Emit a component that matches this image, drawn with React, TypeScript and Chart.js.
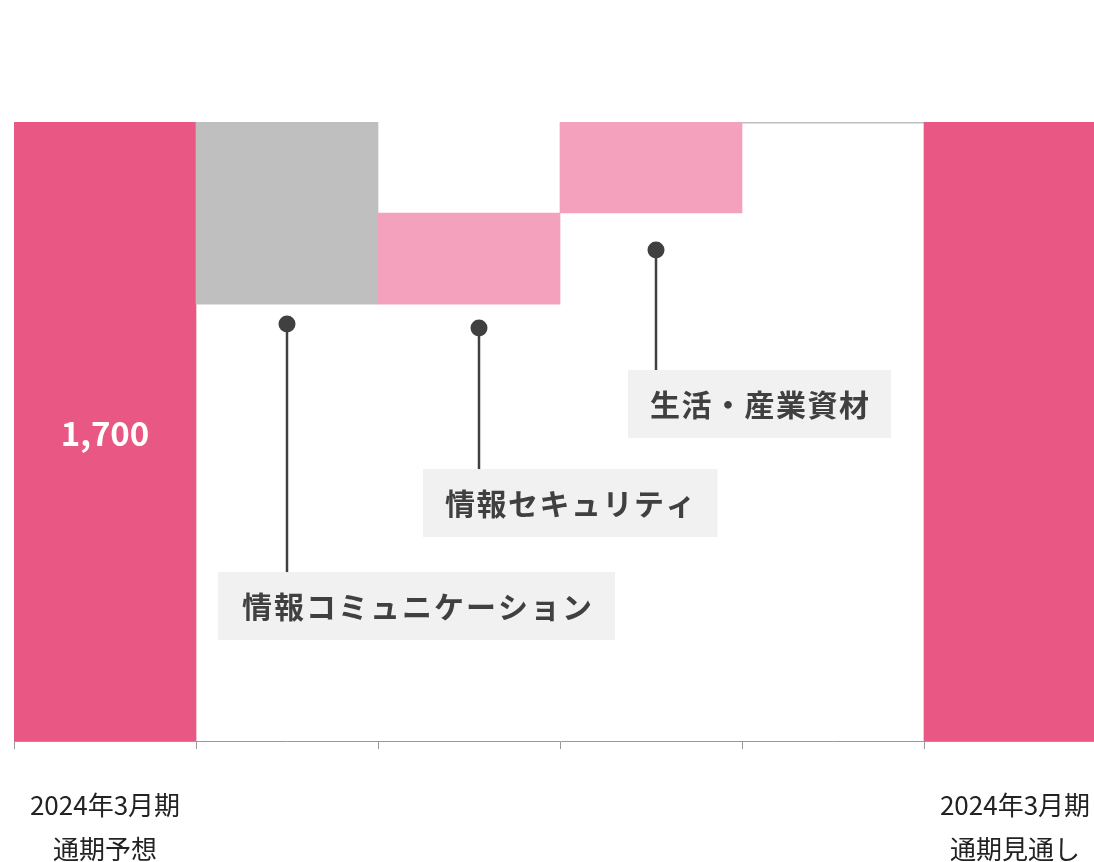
import React, { useEffect, useRef } from 'react';
import { Chart, registerables } from 'chart.js';

Chart.register(...registerables);

const categories = ['2024年3月期 通期予想', '情報コミュニケーション', '情報セキュリティ', '生活・産業資材', 'その他', '2024年3月期 通期見通し'];
const tickLabels: (string | string[])[] = [['2024年3月期', '通期予想'], '', '', '', '', ['2024年3月期', '通期見通し']];
const barStart = [0, 1200, 1200, 1450, 1697, 0];
const barEnd = [1700, 1700, 1450, 1700, 1700, 1700];
const barColors = ['#E95784', '#BFBFBF', '#F3A1BC', '#F3A1BC', '#BFBFBF', '#E95784'];
const valueLabels = ['1,700', '', '', '', '', ''];
const calloutIndex = [1, 2, 3];
const calloutText = ['情報コミュニケーション', '情報セキュリティ', '生活・産業資材'];

const FONT = "'Noto Sans CJK JP', 'Noto Sans', sans-serif";

// layout of callouts (offsets only)
const calloutLayout = [
  { dx: 0, dy: 20, boxDy: 248, boxDx: -69, padL: 24, padR: 23, ls: 2 },
  { dx: 10, dy: 24, boxDy: 141, boxDx: -56, padL: 22, padR: 22, ls: 1.5 },
  { dx: 5, dy: 37, boxDy: 120, boxDx: -28, padL: 22, padR: 22, ls: 1.5 },
];

const overlayPlugin = {
  id: 'overlay',
  afterDatasetsDraw(chart: any) {
    const ctx = chart.ctx as CanvasRenderingContext2D;
    const xs = chart.scales.x;
    const ys = chart.scales.y;
    // value labels
    ctx.save();
    ctx.fillStyle = '#FFFFFF';
    ctx.font = `bold 33px ${FONT}`;
    ctx.textAlign = 'center';
    ctx.textBaseline = 'middle';
    valueLabels.forEach((t, i) => {
      if (!t) return;
      const x = xs.getPixelForValue(i);
      const y = (ys.getPixelForValue(barStart[i]) + ys.getPixelForValue(barEnd[i])) / 2 + 2;
      ctx.fillText(t, x, y);
    });
    ctx.restore();

    // callouts
    calloutIndex.forEach((idx, k) => {
      const L = calloutLayout[k];
      const dotX = xs.getPixelForValue(idx) + L.dx;
      const dotY = ys.getPixelForValue(Math.min(barStart[idx], barEnd[idx])) + L.dy;
      const boxTop = dotY + L.boxDy;
      const boxLeft = dotX + L.boxDx;
      ctx.save();
      ctx.font = `bold 30px ${FONT}`;
      (ctx as any).letterSpacing = `${L.ls}px`;
      const tw = ctx.measureText(calloutText[k]).width - L.ls;
      const boxH = 68;
      const boxW = tw + L.padL + L.padR;
      ctx.fillStyle = '#F1F1F1';
      ctx.fillRect(boxLeft, boxTop, boxW, boxH);
      ctx.fillStyle = '#404040';
      ctx.textAlign = 'left';
      ctx.textBaseline = 'middle';
      ctx.fillText(calloutText[k], boxLeft + L.padL, boxTop + boxH / 2 + 1);
      ctx.restore();

      ctx.save();
      ctx.strokeStyle = '#404040';
      ctx.lineWidth = 2.5;
      ctx.beginPath();
      ctx.moveTo(dotX, dotY);
      ctx.lineTo(dotX, boxTop);
      ctx.stroke();
      ctx.fillStyle = '#404040';
      ctx.beginPath();
      ctx.arc(dotX, dotY, 8.5, 0, Math.PI * 2);
      ctx.fill();
      ctx.restore();
    });
  },
};

export default function App() {
  const ref = useRef<HTMLCanvasElement | null>(null);
  useEffect(() => {
    if (!ref.current) return;
    const chart = new Chart(ref.current, {
      type: 'bar',
      data: {
        labels: tickLabels as any,
        datasets: [
          {
            label: '売上',
            data: barStart.map((s, i) => [s, barEnd[i]]) as any,
            backgroundColor: barColors,
            borderWidth: 0,
            barPercentage: 1,
            categoryPercentage: 1,
          },
        ],
      },
      options: {
        responsive: false,
        animation: false,
        devicePixelRatio: 1,
        layout: { padding: { top: 122, left: 14, right: 0, bottom: 0 } },
        plugins: { legend: { display: false }, tooltip: { enabled: false }, title: { display: false } },
        scales: {
          x: {
            offset: true,
            grid: { display: true, drawOnChartArea: false, drawTicks: true, tickLength: 8, color: '#999999', offset: true },
            border: { display: true, color: '#999999', width: 1 },
            ticks: {
              autoSkip: false,
              maxRotation: 0,
              minRotation: 0,
              padding: 34,
              color: '#222222',
              font: { family: FONT, size: 26, weight: 'normal', lineHeight: 1.7 },
            },
            afterFit: (scale: any) => {
              scale.height = 159;
              scale.paddingLeft = 0;
              scale.paddingRight = 0;
            },
          },
          y: { display: false, min: 0, max: 1700 },
        },
      },
      plugins: [overlayPlugin],
    });
    return () => chart.destroy();
  }, []);
  return (
    <div style={{ position: 'fixed', left: 0, top: 0, width: 1094, height: 862, overflow: 'hidden', background: '#fff' }}>
      <canvas ref={ref} width={1106} height={900} style={{ display: 'block', width: 1106, height: 900 }} />
    </div>
  );
}
